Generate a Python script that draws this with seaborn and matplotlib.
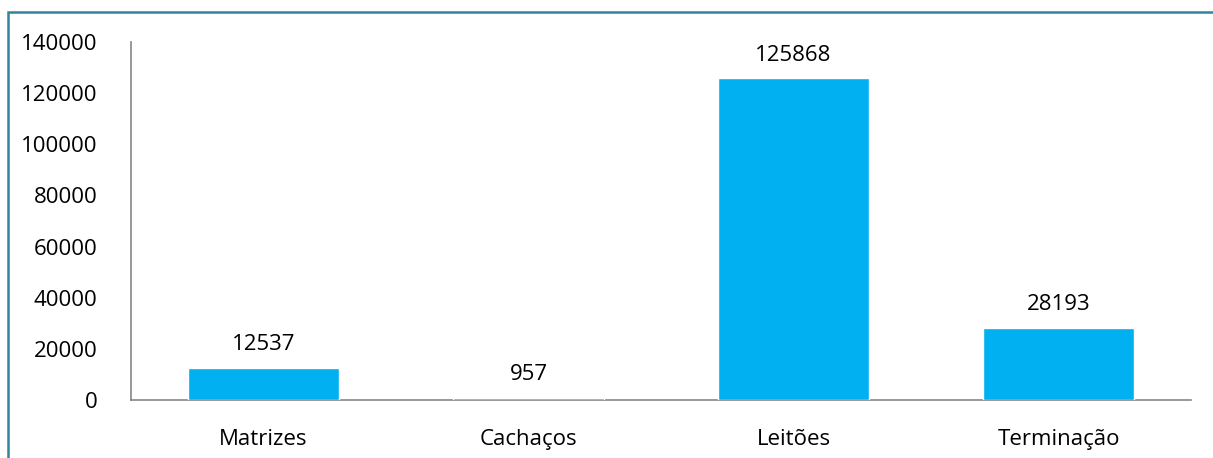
import matplotlib
matplotlib.use('Agg')
import matplotlib.pyplot as plt
import matplotlib.patches as mpatches
import pandas as pd
import seaborn as sns

categories = ['Matrizes', 'Cachaços', 'Leitões', 'Terminação']
values = [12537, 957, 125868, 28193]
yticks = [0, 20000, 40000, 60000, 80000, 100000, 120000, 140000]


def make_plot():
    sns.set_style('white')
    plt.rcParams['font.family'] = ['Open Sans', 'DejaVu Sans']

    df = pd.DataFrame({'categoria': categories, 'valor': values})

    fig = plt.figure(figsize=(12.13, 4.58), dpi=100)
    ax = fig.add_axes([0.108, 0.1266, 0.874, 0.7817])

    sns.barplot(data=df, x='categoria', y='valor', color='#00B0F0',
                saturation=1, width=0.57, ax=ax)
    for bar in ax.patches:
        bar.set_zorder(3)

    ax.bar_label(ax.containers[0], labels=[str(v) for v in values],
                 padding=9, fontsize=16, color='black')

    ax.set_ylim(0, 140000)
    ax.set_yticks(yticks)
    ax.set_yticklabels([str(t) for t in yticks], fontsize=16)
    ax.tick_params(axis='x', labelsize=16, labelcolor='black', length=0, pad=21)
    ax.tick_params(axis='y', labelcolor='black', length=0, pad=24)
    ax.set_xlabel('')
    ax.set_ylabel('')

    for side in ['top', 'right']:
        ax.spines[side].set_visible(False)
    for side in ['left', 'bottom']:
        ax.spines[side].set_color('#868686')
        ax.spines[side].set_linewidth(1.2)
        ax.spines[side].set_zorder(1)

    # outer frame, as in the source document
    frame = mpatches.Rectangle((8 / 1213, -0.1), 1.2, 1.1 - 12 / 458,
                               transform=fig.transFigure, fill=False,
                               edgecolor='#31859C', linewidth=1.8, clip_on=False)
    fig.patches.append(frame)

    fig.savefig('out.png', dpi=100)
    plt.close(fig)


if __name__ == '__main__':
    make_plot()
